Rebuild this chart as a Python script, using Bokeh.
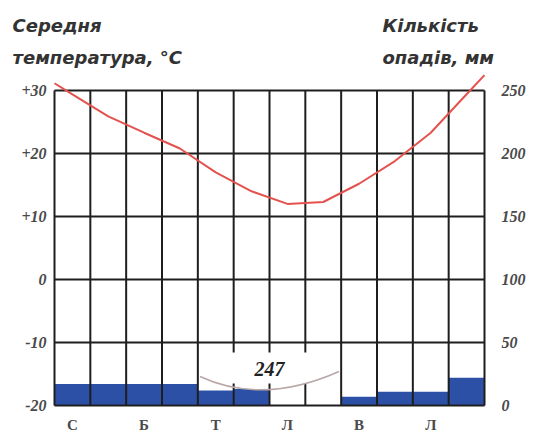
from bokeh.plotting import figure
from bokeh.models import Range1d
from bokeh.core.properties import value
from bokeh.embed import file_html
from bokeh.resources import INLINE

# ---- data ----
months = list(range(1, 13))
temperature = [29.4, 25.9, 23.3, 20.8, 17.0, 14.0, 12.0, 12.3, 15.2, 18.8, 23.3, 29.4]
precipitation = [17, 17, 17, 17, 12, 13, 0, 0, 7, 11, 11, 22]
month_tick_pos = [1, 3, 5, 7, 9, 11]
month_tick_labels = ["С", "Б", "Т", "Л", "В", "Л"]
temp_ticks = [-20, -10, 0, 10, 20, 30]
temp_tick_labels = ["-20", "-10", "0", "+10", "+20", "+30"]
precip_ticks = [0, 50, 100, 150, 200, 250]
precip_tick_labels = ["0", "50", "100", "150", "200", "250"]
note_value = "247"
left_title = ["Середня", "температура, °С"]
right_title = ["Кількість", "опадів, мм"]

T_MIN, T_MAX = -20, 30
MM_PER_DEG = 5.0

# ---- layout (pixels on the canvas) ----
W, H = 529, 432
PX_L, PX_R = 54, 484        # left / right edge of the month grid
PX_TOP, PX_BOT = 90, 405    # +30 line / -20 line
sx = (PX_R - PX_L) / 12.0
sy = (PX_BOT - PX_TOP) / float(T_MAX - T_MIN)
x0 = 0.5 - PX_L / sx
x1 = 12.5 + (W - PX_R) / sx
y1 = T_MAX + PX_TOP / sy
y0 = T_MIN - (H - PX_BOT) / sy

p = figure(width=W, height=H, output_backend="svg", toolbar_location=None,
           x_range=Range1d(x0, x1), y_range=Range1d(y0, y1),
           x_axis_location=None, y_axis_location=None,
           min_border=0, min_border_left=0, min_border_right=0,
           min_border_top=0, min_border_bottom=0)
p.extra_y_ranges = {"precip": Range1d((y0 - T_MIN) * MM_PER_DEG, (y1 - T_MIN) * MM_PER_DEG)}
p.outline_line_color = None
p.grid.visible = False
p.background_fill_color = "white"
p.border_fill_color = "white"

tick_font = "Liberation Serif"
label_color = "#4a4a4a"

# precipitation bars
p.vbar(x=months, top=precipitation, bottom=0, width=1.0, y_range_name="precip",
       fill_color="#2c50a6", line_color=None)

# grid
x_edges = [m - 0.5 for m in months] + [months[-1] + 0.5]
p.segment(x0=x_edges, y0=[T_MIN] * len(x_edges), x1=x_edges, y1=[T_MAX] * len(x_edges),
          line_color="#1e1e1e", line_width=2)
p.segment(x0=[0.5] * len(temp_ticks), y0=temp_ticks, x1=[12.5] * len(temp_ticks), y1=temp_ticks,
          line_color="#1e1e1e", line_width=2)

# off-scale note
p.quad(left=4.56, right=8.44, bottom=-16.5, top=-11.6, fill_color="white", line_color=None)
p.quadratic(x0=4.56, y0=-15.4, x1=8.44, y1=-14.6, cx=6.3, cy=-20.0,
            line_color="#b9a6a6", line_width=1.5)
p.text(x=[6.5], y=[-14.2], text=[note_value], text_align="center", text_baseline="middle",
       text_font_size="20px", text_font_style="bold italic", text_color="#222222",
       text_font=value(tick_font))

# temperature curve
tx = [0.5] + months + [12.5]
ty = ([temperature[0] + (temperature[0] - temperature[1]) / 2] + temperature +
      [temperature[-1] + (temperature[-1] - temperature[-2]) / 2])
p.line(tx, ty, line_color="#e4524e", line_width=2)

# tick labels
p.text(x=[0.5 - 8 / sx] * len(temp_ticks), y=temp_ticks, text=temp_tick_labels,
       text_align="right", text_baseline="middle", text_font=value(tick_font),
       text_font_size="16px", text_font_style="bold italic", text_color=label_color)
p.text(x=[12.5 + 17 / sx] * len(precip_ticks), y=precip_ticks, text=precip_tick_labels,
       y_range_name="precip", text_align="left", text_baseline="middle",
       text_font=value(tick_font), text_font_size="16px", text_font_style="bold italic",
       text_color=label_color)
p.text(x=month_tick_pos, y=[T_MIN - 19 / sy] * len(month_tick_pos), text=month_tick_labels,
       text_align="center", text_baseline="middle", text_font=value(tick_font),
       text_font_size="15px", text_font_style="bold", text_color=label_color)

# axis titles
title_y = [T_MAX + (PX_TOP - 25) / sy, T_MAX + (PX_TOP - 57) / sy]
p.text(x=[0.5 + (12 - PX_L) / sx] * 2, y=title_y, text=left_title, text_baseline="alphabetic",
       text_font=value("DejaVu Sans"), text_font_size="18px",
       text_font_style="bold italic", text_color="#333333")
p.text(x=[0.5 + (382 - PX_L) / sx] * 2, y=title_y, text=right_title, text_baseline="alphabetic",
       text_font=value("DejaVu Sans"), text_font_size="18px",
       text_font_style="bold italic", text_color="#333333")

open("out.html", "w").write(file_html(p, INLINE))
